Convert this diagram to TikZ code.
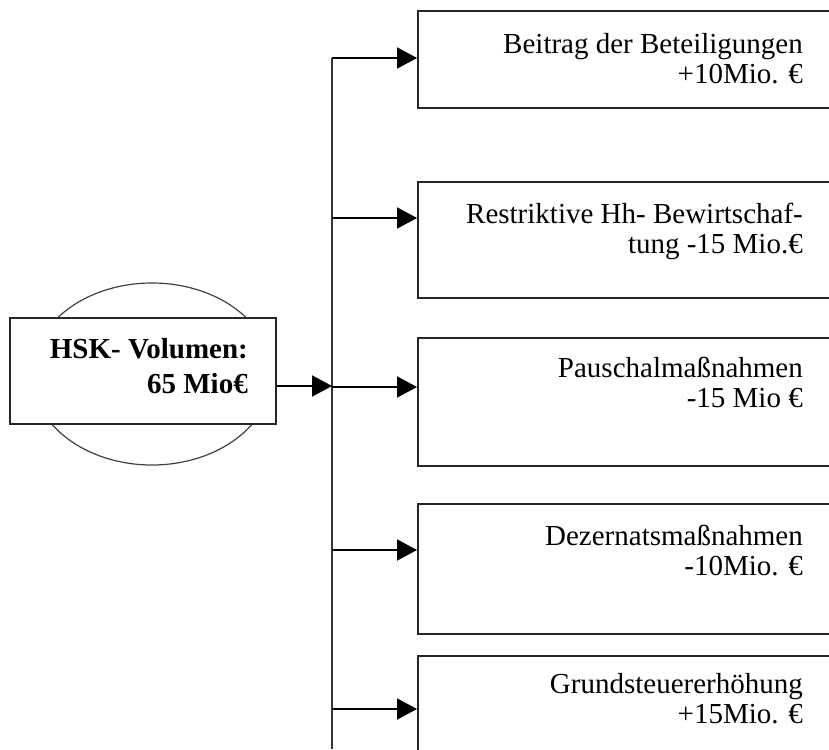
\documentclass[tikz,border=0pt]{standalone}
\usepackage{fontspec}
\setmainfont{Liberation Serif}
\usetikzlibrary{arrows.meta,positioning,shapes.geometric}

\tikzset{
	box/.style={draw=black!85, line width=2pt, anchor=north west, minimum width=440pt, inner sep=0pt},
	boxtext/.style={anchor=north east, align=right, inner sep=0pt, font=\fontsize{29}{30}\selectfont},
	arr/.style={draw=black, line width=2pt, -{Triangle[length=20pt,width=21pt]}},
}

\begin{document}
\begin{tikzpicture}[x=1pt, y=-1pt]
	\useasboundingbox (0,0) rectangle (829,749);
	\clip (0,0) rectangle (829,749);

	% volume
	\node[draw=black!75, line width=1.2pt, ellipse, minimum width=240pt, minimum height=182pt] (oval) at (152,374) {};
	\node[draw=black!85, fill=white, line width=2pt, minimum width=266pt, minimum height=106pt, inner sep=0pt] (hsk) at (143,371) {};
	\node[anchor=north east, align=right, inner sep=0pt, font=\bfseries\fontsize{29}{35}\selectfont] (hsktext) at ([xshift=-29pt, yshift=-21pt]hsk.north east) {HSK- Volumen:\\65 Mio€};

	% boxes
	\node[box, minimum height=97pt] (b1) at (417,10) {};
	\node[box, minimum height=116pt] (b2) at (417,181) {};
	\node[box, minimum height=128pt] (b3) at (417,337) {};
	\node[box, minimum height=130pt] (b4) at (417,503) {};
	\node[box, minimum height=130pt] (b5) at (417,655) {};

	\node[boxtext] (t1) at ([xshift=386pt, yshift=-23pt]b1.north west) {Beitrag der Beteiligungen\\+10Mio. €};
	\node[boxtext] (t2) at ([xshift=386pt, yshift=-22pt]b2.north west) {Restriktive Hh- Bewirtschaf-\\tung -15 Mio.€};
	\node[boxtext] (t3) at ([xshift=386pt, yshift=-20pt]b3.north west) {Pauschalmaßnahmen\\-15 Mio €};
	\node[boxtext] (t4) at ([xshift=386pt, yshift=-22pt]b4.north west) {Dezernatsmaßnahmen\\-10Mio. €};
	\node[boxtext] (t5) at ([xshift=386pt, yshift=-18pt]b5.north west) {Grundsteuererhöhung\\+15Mio. €};

	% arrows
	\coordinate (spinetop) at (332,58);
	\coordinate (spinebot) at (332,749);
	\coordinate (a1) at (417,58);
	\coordinate (a2) at (417,218);
	\coordinate (a3) at (417,387);
	\coordinate (a4) at (417,550);
	\coordinate (a5) at (417,709);
	\coordinate (out) at (276,386);

	\draw[black!80, line width=2pt] (spinetop) -- (spinebot);
	\draw[arr] (out) -- (spinetop |- out);
	\draw[arr] (spinetop |- a1) -- (a1);
	\draw[arr] (spinetop |- a2) -- (a2);
	\draw[arr] (spinetop |- a3) -- (a3);
	\draw[arr] (spinetop |- a4) -- (a4);
	\draw[arr] (spinetop |- a5) -- (a5);

\end{tikzpicture}
\end{document}
